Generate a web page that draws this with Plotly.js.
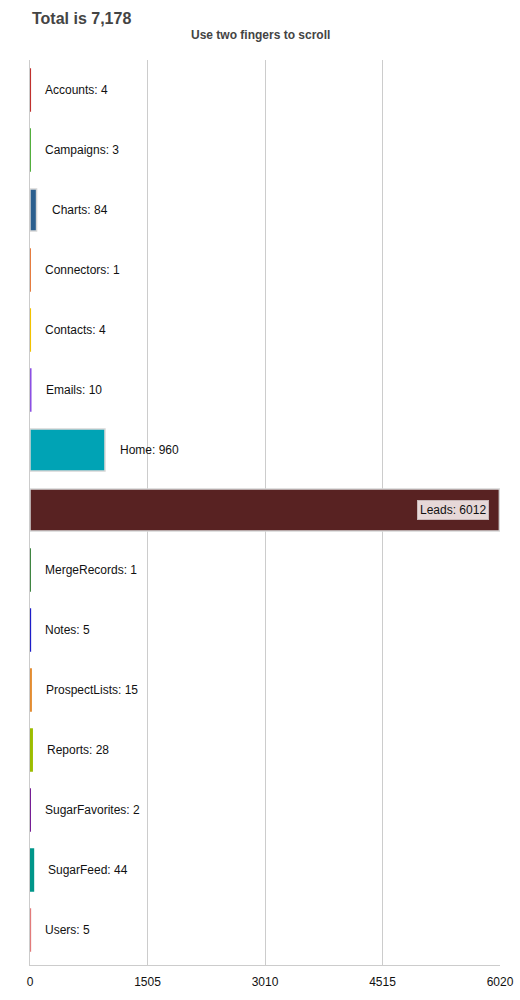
<!DOCTYPE html>
<html><head><meta charset="utf-8">
<script src="https://cdn.plot.ly/plotly-3.0.1.min.js"></script>
<style>body{margin:0;background:#fff}#c{width:520px;height:1000px}</style>
</head><body><div id="c"></div>
<script>
var categories = ['Accounts','Campaigns','Charts','Connectors','Contacts','Emails','Home','Leads','MergeRecords','Notes','ProspectLists','Reports','SugarFavorites','SugarFeed','Users'];
var counts = [4,3,84,1,4,10,960,6012,1,5,15,28,2,44,5];
var barColors = ['#c0302e','#4fae3a','#2b5f8e','#e0641c','#f2c200','#8b4fe3','#00a3b5','#582222','#1b6e1d','#1d1dc9','#e38c32','#9dbd00','#6b0b8c','#00968a','#e27b7b'];
var tickVals = [0,1505,3010,4515,6020];
var titleText = 'Total is 7,178';
var subtitleText = 'Use two fingers to scroll';

var maxVal = 6020;
var lineColors = counts.map(function(v,i){ return v < 50 ? barColors[i] : '#d6d6d6'; });
var annotations = categories.map(function(c,i){
  var inside = counts[i] > maxVal*0.5;
  return inside ? {
    x: counts[i], y: c, xref:'x', yref:'y', text: c+': '+counts[i], showarrow:false,
    xanchor:'right', xshift:-10, font:{size:12,color:'#111',family:'Liberation Sans, Arial'},
    bgcolor:'#e6d8d8', bordercolor:'#c8b8b8', borderwidth:1, borderpad:2
  } : {
    x: counts[i], y: c, xref:'x', yref:'y', text: c+': '+counts[i], showarrow:false,
    xanchor:'left', xshift:13, font:{size:12,color:'#111',family:'Liberation Sans, Arial'}
  };
});
annotations.push({xref:'paper',yref:'paper',x:0,y:1,xanchor:'left',yanchor:'bottom',yshift:31,text:'<b>'+titleText+'</b>',showarrow:false,font:{size:16,color:'#444',family:'Liberation Sans, Arial'}});
annotations.push({xref:'paper',yref:'paper',x:0.49,y:1,xanchor:'center',yanchor:'bottom',yshift:16,text:'<b>'+subtitleText+'</b>',showarrow:false,font:{size:12,color:'#444',family:'Liberation Sans, Arial'}});

var trace = {
  type:'bar', orientation:'h', y:categories, x:counts,
  marker:{color:barColors, line:{color:lineColors, width:1.5}},
  hoverinfo:'none'
};
var layout = {
  width:520, height:1000,
  margin:{l:30, r:20, t:60, b:35},
  paper_bgcolor:'#fff', plot_bgcolor:'#fff',
  bargap:0.3,
  showlegend:false,
  font:{family:'Liberation Sans, Arial', size:12, color:'#222'},
  xaxis:{range:[0,maxVal], tickvals:tickVals, ticktext:tickVals.map(String), showgrid:true, gridcolor:'#cccccc', gridwidth:1,
         zeroline:false, showline:true, linecolor:'#cccccc', linewidth:1, mirror:false,
         ticks:'outside', ticklen:6, tickcolor:'rgba(0,0,0,0)', tickfont:{size:12,color:'#111'}},
  yaxis:{range:[14.583,-0.5], showticklabels:false, showgrid:false, zeroline:false, showline:true, linecolor:'#cccccc', linewidth:1, ticks:''},
  annotations:annotations
};
Plotly.newPlot('c',[trace],layout,{staticPlot:true});
</script></body></html>
